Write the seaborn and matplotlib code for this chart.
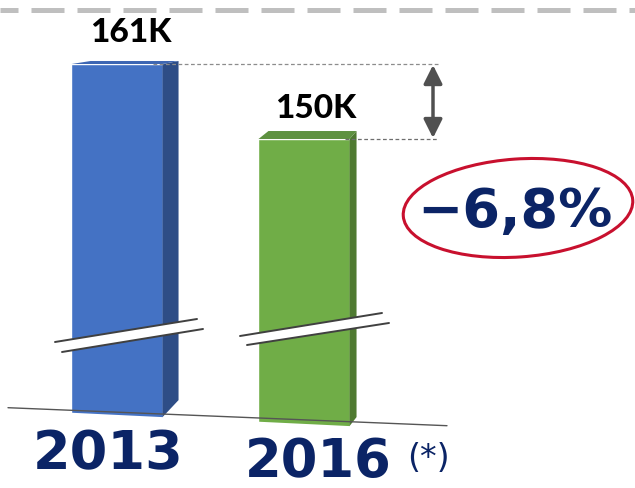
import matplotlib
matplotlib.use("Agg")
import matplotlib.pyplot as plt
import matplotlib.transforms as mtransforms
from matplotlib.patches import Polygon, Ellipse
import seaborn as sns
import pandas as pd

# ---- data ----
years = ["2013", "2016"]
values = [161, 150]            # thousands
value_labels = ["161K", "150K"]
year_labels = ["2013", "2016"]
year_note = "(*)"
change_label = "\u22126,8%"

front_colors = ["#4472C4", "#70AD47"]
side_colors = ["#2E4D86", "#4F7A31"]
top_colors = ["#3D66B3", "#5E9140"]
NAVY = "#0B2466"

W, H = 635, 488
sns.set_theme(style="white")
plt.rcParams['font.family'] = ['DejaVu Sans']

fig = plt.figure(figsize=(W / 100, H / 100), dpi=100)
ax = fig.add_axes([0, 0, 1, 1])

df = pd.DataFrame({"year": years, "value": values})
sns.barplot(data=df, x="year", y="value", hue="year", palette=front_colors,
            width=0.487, saturation=1, legend=False, ax=ax, zorder=1)
ax.set_xlim(-0.6257, 2.770)
ax.set_ylim(98.81, 170.39)
ax.axis("off")

# pixel transform (x right, y down from top-left)
T = mtransforms.Affine2D().scale(1 / W, -1 / H).translate(0, 1) + fig.transFigure


def to_px(x, y):
    dx, dy = ax.transData.transform((x, y))
    return dx, H - dy


def cut(x):
    return 413 + 0.048 * (x - 77)


# 3D faces
depth = [(16, 3, 17), (7, 8, 9)]   # side width, top rise, bottom rise (px)
bars = sorted(ax.patches, key=lambda p: p.get_x())
for i, p in enumerate(bars):
    x0, top = to_px(p.get_x(), p.get_height())
    x1, _ = to_px(p.get_x() + p.get_width(), p.get_height())
    sw, rise, brise = depth[i]
    side = Polygon([(x1, top), (x1 + sw, top - rise), (x1 + sw, cut(x1) - brise),
                    (x1, cut(x1))], closed=True, transform=T,
                   facecolor=side_colors[i], edgecolor="none", zorder=2)
    fig.add_artist(side)
    topface = Polygon([(x0, top), (x0 + sw + 3, top - rise), (x1 + sw, top - rise),
                       (x1, top)], closed=True, transform=T,
                      facecolor=top_colors[i], edgecolor="none", zorder=2)
    fig.add_artist(topface)

# mask below slanted baseline
fig.add_artist(Polygon([(0, cut(0)), (W, cut(W)), (W, H), (0, H)], closed=True,
                       transform=T, facecolor="white", edgecolor="none", zorder=3))
# baseline
fig.add_artist(plt.Line2D([8, 447], [407.7, 425.7], transform=T, color="#555555",
                          lw=1.0, zorder=4))

# axis break marks
breaks = [((55, 342), (197, 319), (62, 352), (203, 329)),
          ((240, 336), (382, 313), (247, 345), (389, 323))]
for a1, a2, b1, b2 in breaks:
    fig.add_artist(Polygon([a1, a2, b2, b1], closed=True, transform=T,
                           facecolor="white", edgecolor="none", zorder=4))
    for s, e in ((a1, a2), (b1, b2)):
        fig.add_artist(plt.Line2D([s[0], e[0]], [s[1], e[1]], transform=T,
                                  color="#404040", lw=1.4, zorder=5))

# top dashed gray line
top_line = plt.Line2D([0, W], [10, 10], transform=T, color="#BFBFBF", lw=3.6,
                      ls=(3.0, (6.6, 2.6)), zorder=4)
fig.add_artist(top_line)

# reference dashed lines and arrow
_, y_hi = to_px(0, values[0])
_, y_lo = to_px(0, values[1])
fig.add_artist(plt.Line2D([153, 440], [y_hi, y_hi], transform=T, color="#8C8C8C",
                          lw=0.9, ls=(0, (3, 2)), zorder=4))
fig.add_artist(plt.Line2D([345, 437], [y_lo, y_lo], transform=T, color="#6E6E6E",
                          lw=0.9, ls=(0, (3, 2)), zorder=4))
ax.annotate("", xy=(433, y_hi + 1), xytext=(433, y_lo - 1), xycoords=T, textcoords=T,
            arrowprops=dict(arrowstyle="<|-|>,head_length=0.8,head_width=0.4",
                            mutation_scale=14, color="#505050", lw=2.5,
                            shrinkA=0, shrinkB=0), zorder=6)

# value labels
offsets = [(14, 32), (12, 31)]
for p, lab, off in zip(bars, value_labels, offsets):
    ax.annotate(lab, xy=(p.get_x() + p.get_width() / 2, p.get_height()),
                xytext=off, textcoords="offset pixels", ha="center", va="center",
                fontsize=24, fontweight="black", family=["Lato", "DejaVu Sans"],
                color="black", zorder=6)

# year labels
fig.text(108 / W, 1 - 454 / H, year_labels[0], fontsize=39, fontweight="bold",
         color=NAVY, ha="center", va="center", zorder=7)
fig.text(318 / W, 1 - 462 / H, year_labels[1], fontsize=38, fontweight="bold",
         color=NAVY, ha="center", va="center", zorder=7)
fig.text(428 / W, 1 - 458 / H, year_note, fontsize=24, fontweight="normal",
         color=NAVY, ha="center", va="center", zorder=7)

# change annotation with red ellipse
fig.add_artist(Ellipse((518, 208), 230, 98, angle=-4, transform=T, facecolor="none",
                       edgecolor="#C8102E", lw=2.2, zorder=6))
fig.text(515 / W, 1 - 212 / H, change_label, fontsize=39, fontweight="bold",
         color=NAVY, ha="center", va="center", zorder=7)

fig.savefig("out.png", dpi=100)
